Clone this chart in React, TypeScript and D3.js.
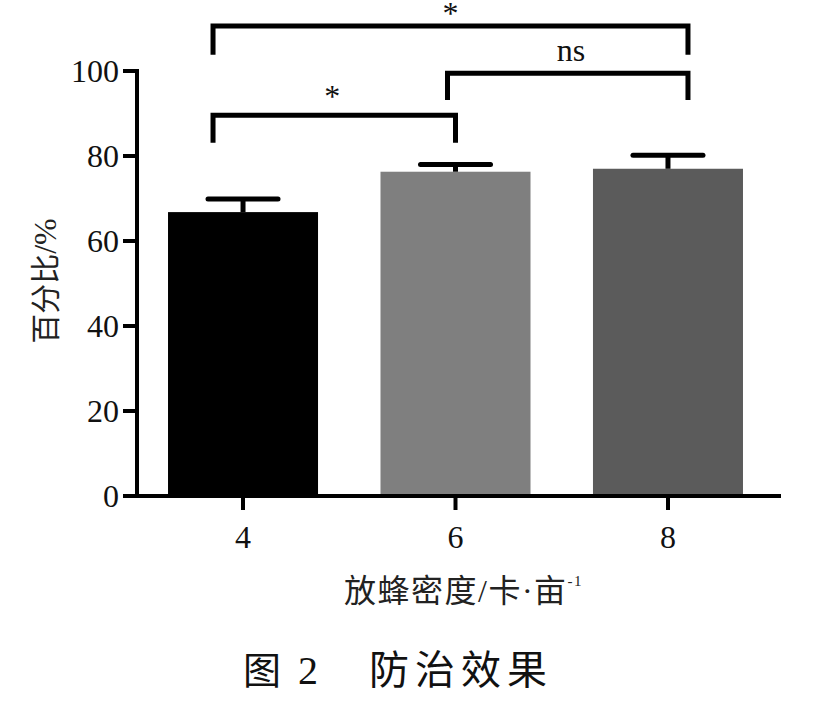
import React from "react";
import * as d3 from "d3";

const categories = ["4", "6", "8"];
const meanValues = [66.8, 76.3, 77.0];
const errorValues = [3.1, 1.7, 3.2];
const barColors = ["#000000", "#7f7f7f", "#5b5b5b"];
const yTicks = [0, 20, 40, 60, 80, 100];
// significance brackets
const bracketFrom = [0, 1, 0];
const bracketTo = [1, 2, 2];
const bracketLevel = [89.6, 99.5, 110.6];
const bracketLegEnd = [83.1, 93.2, 103.8];
const bracketLabels = ["*", "ns", "*"];

const W = 823;
const H = 708;
const axisX = 137;
const axisRight = 781;
const y0 = 496;
const y100 = 71;

const serif = "'Liberation Serif', 'Times New Roman', serif";
const cjk = "'Noto Sans CJK SC', sans-serif";

export default function App() {
  const x = d3
    .scaleBand<string>()
    .domain(categories)
    .range([axisX, 774])
    .paddingInner(0.294)
    .paddingOuter(0.146);
  const y = d3.scaleLinear().domain([0, 100]).range([y0, y100]);
  const bw = x.bandwidth();
  const cx = (i: number) => (x(categories[i]) as number) + bw / 2;
  const capHalf = 35;

  const leftOffset = [-30, -8, -30];
  const rightOffset = [0, 20, 20];
  const labelGap = [8, 12, 2];

  return (
    <svg
      width={W}
      height={H}
      style={{ position: "absolute", left: 0, top: 0, background: "#fff" }}
    >
      <rect x={0} y={0} width={W} height={H} fill="#fff" />
      {categories.map((c, i) => (
        <rect
          key={c}
          x={x(c)}
          y={y(meanValues[i])}
          width={bw}
          height={y0 - y(meanValues[i])}
          fill={barColors[i]}
        />
      ))}
      {categories.map((c, i) => {
        const top = y(meanValues[i] + errorValues[i]);
        return (
          <g key={"e" + c} stroke="#000" strokeWidth={5}>
            <line x1={cx(i)} x2={cx(i)} y1={y(meanValues[i])} y2={top} />
            <line
              x1={cx(i) - capHalf}
              x2={cx(i) + capHalf}
              y1={top}
              y2={top}
              strokeLinecap="round"
            />
          </g>
        );
      })}
      <line x1={axisX} x2={axisX} y1={y(100) - 2} y2={y0 + 2} stroke="#000" strokeWidth={4} />
      {yTicks.map((t) => (
        <g key={"yt" + t}>
          <line x1={axisX - 14} x2={axisX} y1={y(t)} y2={y(t)} stroke="#000" strokeWidth={4} />
          <text
            x={119}
            y={y(t) + 11}
            textAnchor="end"
            fontFamily={serif}
            fontSize={32}
            fill="#111"
          >
            {t}
          </text>
        </g>
      ))}
      <line x1={axisX - 2} x2={axisRight} y1={y0} y2={y0} stroke="#000" strokeWidth={4} />
      {categories.map((c, i) => (
        <g key={"xt" + c}>
          <line x1={cx(i)} x2={cx(i)} y1={y0} y2={y0 + 14} stroke="#000" strokeWidth={4} />
          <text
            x={cx(i)}
            y={548}
            textAnchor="middle"
            fontFamily={serif}
            fontSize={32}
            fill="#111"
          >
            {c}
          </text>
        </g>
      ))}
      {bracketLabels.map((lab, k) => {
        const xl = cx(bracketFrom[k]) + leftOffset[k];
        const xr = cx(bracketTo[k]) + rightOffset[k];
        const yl = y(bracketLevel[k]);
        const ye = y(bracketLegEnd[k]);
        return (
          <g key={"b" + k}>
            <path
              d={`M${xl},${ye}V${yl}H${xr}V${ye}`}
              fill="none"
              stroke="#000"
              strokeWidth={5}
              strokeLinejoin="miter"
            />
            <text
              x={k === 1 ? 571 : (xl + xr) / 2 + (k === 0 ? -2 : 0)}
              y={yl - labelGap[k]}
              textAnchor="middle"
              fontFamily={serif}
              fontSize={32}
              fill="#111"
            >
              {lab}
            </text>
          </g>
        );
      })}
      <text
        transform="translate(56,281) rotate(-90)"
        textAnchor="middle"
        fontFamily={cjk}
        fontSize={30}
        fill="#222"
      >
        百分比
        <tspan fontFamily={serif} fontSize={32}>/%</tspan>
      </text>
      <text x={344} y={602} fontFamily={cjk} fontSize={32} letterSpacing={1.5} fill="#222">
        放蜂密度
        <tspan fontFamily={serif} fontSize={32}>/</tspan>
        卡
        <tspan fontFamily={serif} fontSize={32}>·</tspan>
        亩
        <tspan fontFamily={serif} fontSize={15} dy={-16}>-1</tspan>
      </text>
      <text x={243} y={684} fontFamily={cjk} fontSize={38} fill="#111">
        图
      </text>
      <text x={298} y={684} fontFamily={serif} fontSize={40} fill="#111">
        2
      </text>
      <text x={369} y={684} fontFamily={cjk} fontSize={40} letterSpacing={6} fill="#111">
        防治效果
      </text>
    </svg>
  );
}
